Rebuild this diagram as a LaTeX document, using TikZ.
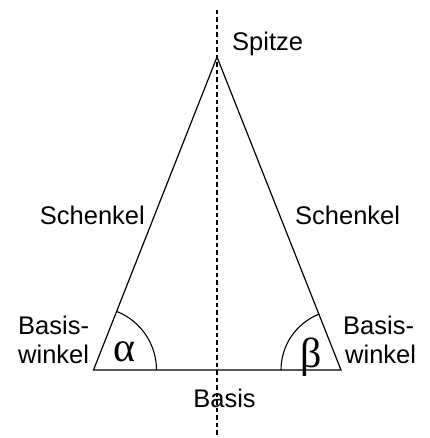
\documentclass[tikz,border=0pt]{standalone}
\usepackage{fontspec}
\setmainfont{Liberation Sans}
\newfontfamily\greekfont{Liberation Serif}
\usetikzlibrary{positioning, calc}

\begin{document}
\begin{tikzpicture}[x=1pt, y=-1pt,
  every node/.style={font=\fontsize{25.5}{28}\selectfont, inner sep=0pt},
  seite/.style={line width=1.2pt},
  achse/.style={line width=1.1pt, dash pattern=on 4.5pt off 3pt},
  winkelbogen/.style={line width=1.1pt},
  grk/.style={font=\fontsize{42}{44}\greekfont}]
\useasboundingbox (0,0) rectangle (429,438);
% Ecken
\coordinate (A) at (93.5,370);
\coordinate (B) at (341,370);
\coordinate (C) at (217,57);
% Symmetrieachse
\coordinate (oben) at (217,10);
\coordinate (unten) at (217,436);
\draw[achse] (oben) -- (unten);
% Dreieck
\draw[seite] (A) -- (B) -- (C) -- cycle;
% Basiswinkel
\draw[winkelbogen] ($(A)+(63,0)$) arc[start angle=0, end angle=-68.4, radius=63];
\draw[winkelbogen] ($(B)+(-60,0)$) arc[start angle=180, end angle=248.4, radius=60];
\node[grk] (alpha) at (125,352) {α};
\node[grk] (beta) at (311,357) {β};
% Beschriftung
\node[anchor=west] (spitze) at (232,44) {Spitze};
\node[anchor=east] (schenkelL) at (145,215) {Schenkel};
\node[anchor=west] (schenkelR) at (295,215) {Schenkel};
\node[anchor=west] (basisL1) at (18,325) {Basis-};
\node[anchor=west] (basisL2) at (18,354) {winkel};
\node[anchor=west] (basisR1) at (343,325) {Basis-};
\node[anchor=west] (basisR2) at (345,354) {winkel};
\node (basis) at (224.5,398) {Basis};
\end{tikzpicture}
\end{document}
